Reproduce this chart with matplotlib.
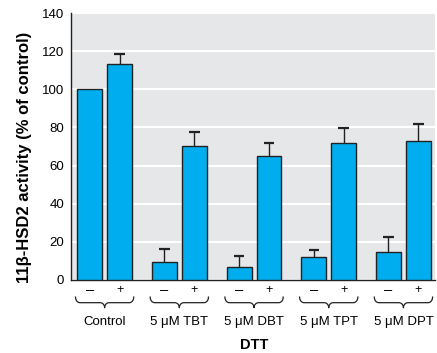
import matplotlib
matplotlib.use("Agg")
import matplotlib.pyplot as plt
import numpy as np

plt.rcParams['font.family'] = ['Liberation Sans', 'DejaVu Sans']

groups = ["Control", "5 \u03bcM TBT", "5 \u03bcM DBT", "5 \u03bcM TPT", "5 \u03bcM DPT"]
dtt_labels = ["\u2013", "+"]
minus_vals = [100, 9.6, 7.0, 11.9, 14.7]
minus_err = [0, 6.8, 5.6, 3.8, 7.8]
plus_vals = [113.4, 70.4, 64.9, 71.7, 72.7]
plus_err = [4.9, 7.2, 6.9, 8.2, 9.3]
yticks = [0, 20, 40, 60, 80, 100, 120, 140]

W, H = 437, 353
fig = plt.figure(figsize=(W / 100, H / 100), dpi=100)
ax = fig.add_axes([0.1625, 0.2068, 0.8325, 0.7562])
ax.set_facecolor("#e6e7e9")

x = np.arange(len(groups))
off = 0.2
w = 0.333
color = "#00aeef"
ecol = "#222222"
ax.bar(x - off, minus_vals, w, color=color, edgecolor=ecol, linewidth=1.0, zorder=3)
ax.bar(x + off, plus_vals, w, color=color, edgecolor=ecol, linewidth=1.0, zorder=3)
cap = 0.07
for xs, vals, errs in [(x - off, minus_vals, minus_err), (x + off, plus_vals, plus_err)]:
    for xi, v, e in zip(xs, vals, errs):
        if e > 0:
            ax.plot([xi, xi], [v, v + e], color=ecol, linewidth=1.0, zorder=2)
            ax.plot([xi - cap, xi + cap], [v + e, v + e], color=ecol, linewidth=1.6,
                    solid_capstyle="butt", zorder=2)

ax.set_xlim(-0.45, 4.42)
ax.set_ylim(0, 140)
ax.set_yticks(yticks)
ax.set_yticklabels([str(t) for t in yticks], fontsize=9.5)
ax.yaxis.grid(True, color="white", linewidth=1.5, zorder=0)
ax.set_axisbelow(True)
ax.tick_params(axis='y', length=0, pad=5)
ax.set_xticks([])
for s in ["top", "right"]:
    ax.spines[s].set_visible(False)
for s in ["left", "bottom"]:
    ax.spines[s].set_color("#222222")
    ax.spines[s].set_linewidth(1.0)

fig.text(25 / W, 1 - 157 / H, "11\u03b2-HSD2 activity (% of control)", rotation=90,
         ha="center", va="center", fontsize=12, fontweight="bold")

trans = ax.get_xaxis_transform()


def brace_points(xc, half, t, m, b, rx, n=12):
    ry = (t - m)
    th = np.linspace(np.pi, 1.5 * np.pi, n)
    lx = (xc - half + rx) + rx * np.cos(th)
    ly = t + ry * np.sin(th)
    th2 = np.linspace(0.5 * np.pi, 0, n)
    cx1 = (xc - rx) + rx * np.cos(th2)
    cy1 = b + (m - b) * np.sin(th2)
    th3 = np.linspace(np.pi, 0.5 * np.pi, n)
    cx2 = (xc + rx) + rx * np.cos(th3)
    cy2 = b + (m - b) * np.sin(th3)
    th4 = np.linspace(1.5 * np.pi, 2 * np.pi, n)
    rxx = (xc + half - rx) + rx * np.cos(th4)
    ryy = t + ry * np.sin(th4)
    return np.concatenate([lx, cx1, cx2, rxx]), np.concatenate([ly, cy1, cy2, ryy])


for xi, g in zip(x, groups):
    ax.text(xi - off, -0.037, dtt_labels[0], transform=trans, ha="center", va="center", fontsize=10.5, clip_on=False)
    ax.text(xi + off, -0.037, dtt_labels[1], transform=trans, ha="center", va="center", fontsize=9, clip_on=False)
    ax.text(xi, -0.156, g, transform=trans, ha="center", va="center", fontsize=9.5, clip_on=False)
    bx, by = brace_points(xi, 0.39, -0.064, -0.085, -0.104, 0.06)
    ax.plot(bx, by, transform=trans, color="#222222", linewidth=0.9, clip_on=False)

ax.text(2, -0.243, "DTT", transform=trans, ha="center", va="center", fontsize=10.5, fontweight="bold", clip_on=False)

fig.savefig("out.png", dpi=100)
